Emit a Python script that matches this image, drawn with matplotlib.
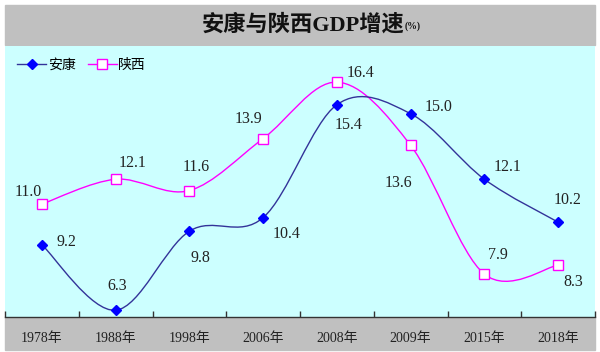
import matplotlib
matplotlib.use("Agg")
import matplotlib.pyplot as plt
from matplotlib.path import Path
from matplotlib.patches import PathPatch, Rectangle
from matplotlib.lines import Line2D


years = ["1978年", "1988年", "1998年", "2006年", "2008年", "2009年", "2015年", "2018年"]
ankang = [9.2, 6.3, 9.8, 10.4, 15.4, 15.0, 12.1, 10.2]
shaanxi = [11.0, 12.1, 11.6, 13.9, 16.4, 13.6, 7.9, 8.3]

# label offsets in pixels (dx, dy up)
ankang_off = [(25, 3), (2, 24), (11, -27), (23, -16), (12, -20), (28, 7), (23, 12), (9, 22)]
shaanxi_off = [(-14, 12), (17, 16), (7, 24), (-15, 20), (24, 9), (-12, -38), (14, 19), (15, -17)]

SERIF = ["Liberation Serif", "Noto Sans CJK SC"]
SANS = ["Noto Sans CJK SC", "DejaVu Sans"]

BG = "#CCFFFF"
GRAY = "#C0C0C0"


def smooth_path(xs, ys):
    # excel-like smoothed line: cubic bezier with catmull-rom tangents
    pts = list(zip(xs, ys))
    n = len(pts)
    verts = [pts[0]]
    codes = [Path.MOVETO]
    for i in range(n - 1):
        p0 = pts[i - 1] if i > 0 else pts[i]
        p1 = pts[i]
        p2 = pts[i + 1]
        p3 = pts[i + 2] if i + 2 < n else pts[i + 1]
        c1 = (p1[0] + (p2[0] - p0[0]) / 6, p1[1] + (p2[1] - p0[1]) / 6)
        c2 = (p2[0] - (p3[0] - p1[0]) / 6, p2[1] - (p3[1] - p1[1]) / 6)
        verts += [c1, c2, p2]
        codes += [Path.CURVE4] * 3
    return Path(verts, codes)


fig = plt.figure(figsize=(6, 3.52), dpi=100)
W, H = 600, 352

# title band and bottom band
fig.patches.append(Rectangle((5 / W, (H - 45) / H), 590 / W, 40 / H,
                             transform=fig.transFigure, color=GRAY, zorder=-1))
fig.patches.append(Rectangle((5 / W, (H - 350) / H), 590 / W, 33 / H,
                             transform=fig.transFigure, color=GRAY, zorder=-1))

ax = fig.add_axes([5 / W, 35 / H, 590 / W, 271 / H])
ax.set_facecolor(BG)
ax.set_xlim(-0.5, len(years) - 0.5)
ax.set_ylim(6, 18)
for s in ["left", "right", "top"]:
    ax.spines[s].set_visible(False)
ax.spines["bottom"].set_color("#333333")
ax.spines["bottom"].set_linewidth(1)
ax.set_yticks([])

x = list(range(len(years)))
ax.set_xticks([i - 0.5 for i in range(len(years) + 1)])
ax.set_xticklabels([])
ax.tick_params(axis="x", which="major", direction="in", length=4, width=1, color="#333333")
ax.set_xticks(x, minor=True)
ax.set_xticklabels(years, minor=True, fontfamily=SERIF, fontsize=10, color="#222222")
ax.tick_params(axis="x", which="minor", length=0, pad=11)

ax.add_patch(PathPatch(smooth_path(x, shaanxi), fill=False, edgecolor="#FF00FF", lw=1, zorder=2))
ax.add_patch(PathPatch(smooth_path(x, ankang), fill=False, edgecolor="#333399", lw=1, zorder=3))
ax.plot(x, shaanxi, ls="none", marker="s", ms=6.5, mfc="white", mec="#FF00FF", mew=1, zorder=4)
ax.plot(x, ankang, ls="none", marker="D", ms=5.5, mfc="#0000FF", mec="#0000FF", zorder=5)

for xi, v, (dx, dy) in zip(x, ankang, ankang_off):
    ax.annotate("%.1f" % v, (xi, v), xytext=(dx, dy), textcoords="offset pixels",
                ha="center", va="center", fontfamily=SERIF, fontsize=11.5, color="#222222")
for xi, v, (dx, dy) in zip(x, shaanxi, shaanxi_off):
    ax.annotate("%.1f" % v, (xi, v), xytext=(dx, dy), textcoords="offset pixels",
                ha="center", va="center", fontfamily=SERIF, fontsize=11.5, color="#222222")

handles = [
    Line2D([], [], color="#333399", lw=1, marker="D", ms=5.5, mfc="#0000FF", mec="#0000FF"),
    Line2D([], [], color="#FF00FF", lw=1, marker="s", ms=6.5, mfc="white", mec="#FF00FF"),
]
fig.legend(handles, ["安康", "陕西"], loc="center left", bbox_to_anchor=(17 / W, (H - 65) / H),
           ncol=2, frameon=False, prop={"family": SANS, "size": 10}, handlelength=2.1,
           handletextpad=0.1, columnspacing=0.9, borderpad=0, borderaxespad=0)

fig.text(303 / W, (H - 25) / H, "安康与陕西GDP增速", ha="center", va="center",
         fontfamily=SERIF, fontsize=16, fontweight="bold", color="#111111")
fig.text(405 / W, (H - 26) / H, "(%)", ha="left", va="center",
         fontfamily=SERIF, fontsize=7, fontweight="bold", color="#111111")

fig.savefig("out.png", dpi=100)
